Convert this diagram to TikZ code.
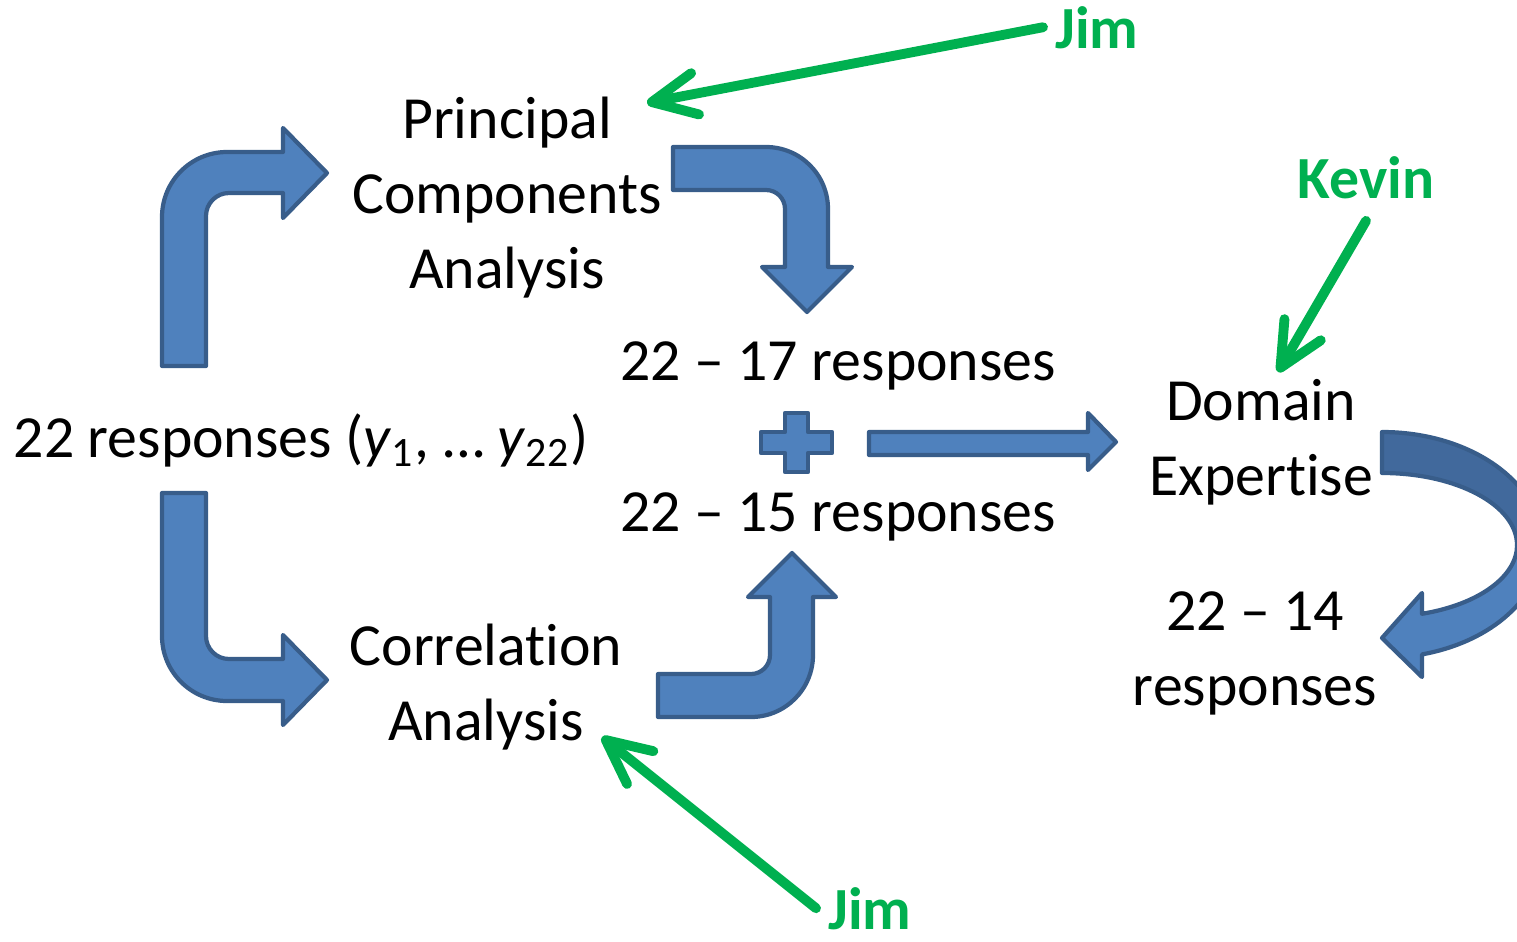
\documentclass[tikz,border=0pt]{standalone}
\usepackage{fontspec}
\setmainfont{Carlito}[Ligatures=NoCommon]
\usetikzlibrary{arrows.meta}
\definecolor{flowBlue}{HTML}{4F81BD}
\definecolor{flowEdge}{HTML}{385D8A}
\definecolor{flowBack}{HTML}{41699C}
\definecolor{noteGreen}{HTML}{00B050}
\tikzset{
  txt/.style={font=\fontsize{17}{21.3}\selectfont,align=center,anchor=base},
  who/.style={font=\fontsize{17}{21.3}\selectfont\bfseries,text=noteGreen,anchor=base},
  bigarrow/.style={fill=flowBlue,draw=flowEdge,line width=1.2pt,line join=round},
  backarrow/.style={fill=flowBack,draw=flowEdge,line width=1.2pt,line join=round},
  pointer/.style={draw=noteGreen,line width=2.8pt,line cap=round,
    -{Straight Barb[length=4.4mm,width=4.2mm,round]}}
}
\begin{document}
\begin{tikzpicture}[x=0.01cm,y=0.01cm]
\useasboundingbox (0,0) rectangle (1517,941);

\node[txt] (resp) at (301,484) {22 responses (\textit{y}\textsubscript{1}, … \textit{y}\textsubscript{22})};
\node[txt] (pca) at (507,653) {Principal\\Components\\Analysis};
\node[txt] (corr) at (486,201) {Correlation\\Analysis};
\node[txt] (sel17) at (838,561) {22 – 17 responses};
\node[txt] (sel15) at (838,410) {22 – 15 responses};
\node[txt] (domain) at (1261,446) {Domain\\Expertise};
\node[txt] (final) at (1255,236) {22 – 14\\responses};

\node[who] (jimTop) at (1097,893) {Jim};
\node[who] (kevin) at (1366,743) {Kevin};
\node[who] (jimBot) at (870,12) {Jim};

\coordinate (pcaTip) at (647,838);
\coordinate (domTip) at (1278,569);
\coordinate (corrTip) at (602,204);

% block arrows
\filldraw[bigarrow] (162,575) -- (162,724) arc[start angle=180,end angle=90,radius=65]
  -- (283,789) -- (283,813) -- (327,768) -- (283,723) -- (283,748) -- (229,748)
  arc[start angle=90,end angle=180,radius=23] -- (206,575) -- cycle;
\filldraw[bigarrow] (162,448) -- (162,305) arc[start angle=180,end angle=270,radius=65]
  -- (283,240) -- (283,216) -- (327,261) -- (283,306) -- (283,282) -- (229,282)
  arc[start angle=270,end angle=180,radius=23] -- (206,448) -- cycle;
\filldraw[bigarrow] (673,794) -- (766,794) arc[start angle=90,end angle=0,radius=62]
  -- (828,674) -- (852,674) -- (807,629) -- (762,674) -- (785,674) -- (785,732)
  arc[start angle=0,end angle=90,radius=19] -- (673,751) -- cycle;
\filldraw[bigarrow] (658,224) -- (751,224) arc[start angle=270,end angle=360,radius=62]
  -- (813,344) -- (836,344) -- (792,388) -- (748,344) -- (770,344) -- (770,286)
  arc[start angle=0,end angle=-90,radius=19] -- (658,267) -- cycle;
\filldraw[bigarrow] (785,528) -- (808,528) -- (808,509) -- (832,509) -- (832,488)
  -- (808,488) -- (808,469) -- (785,469) -- (785,488) -- (761,488) -- (761,509)
  -- (785,509) -- cycle;
\filldraw[bigarrow] (869,509) -- (1088,509) -- (1088,528) -- (1116,499) -- (1088,471)
  -- (1088,486) -- (869,486) -- cycle;
\begin{scope}
  \clip (0,0) rectangle (1517,941);
  \filldraw[backarrow] (1382,509) arc[start angle=90,end angle=0,x radius=160,y radius=113]
    -- (1517,396) arc[start angle=0,end angle=90,x radius=135,y radius=72] -- cycle;
  \filldraw[bigarrow] (1542,396) arc[start angle=0,end angle=-75.5,x radius=160,y radius=113]
    -- (1422,264) -- (1382,303) -- (1422,348) -- (1422,327.2)
    arc[start angle=-72.8,end angle=0,x radius=135,y radius=72] -- cycle;
\end{scope}

\draw[pointer] ([yshift=-1mm]kevin.south) -- (domTip);
\draw[pointer] (jimTop.west) -- (pcaTip);
\draw[pointer] (jimBot.west) -- (corrTip);
\end{tikzpicture}
\end{document}
